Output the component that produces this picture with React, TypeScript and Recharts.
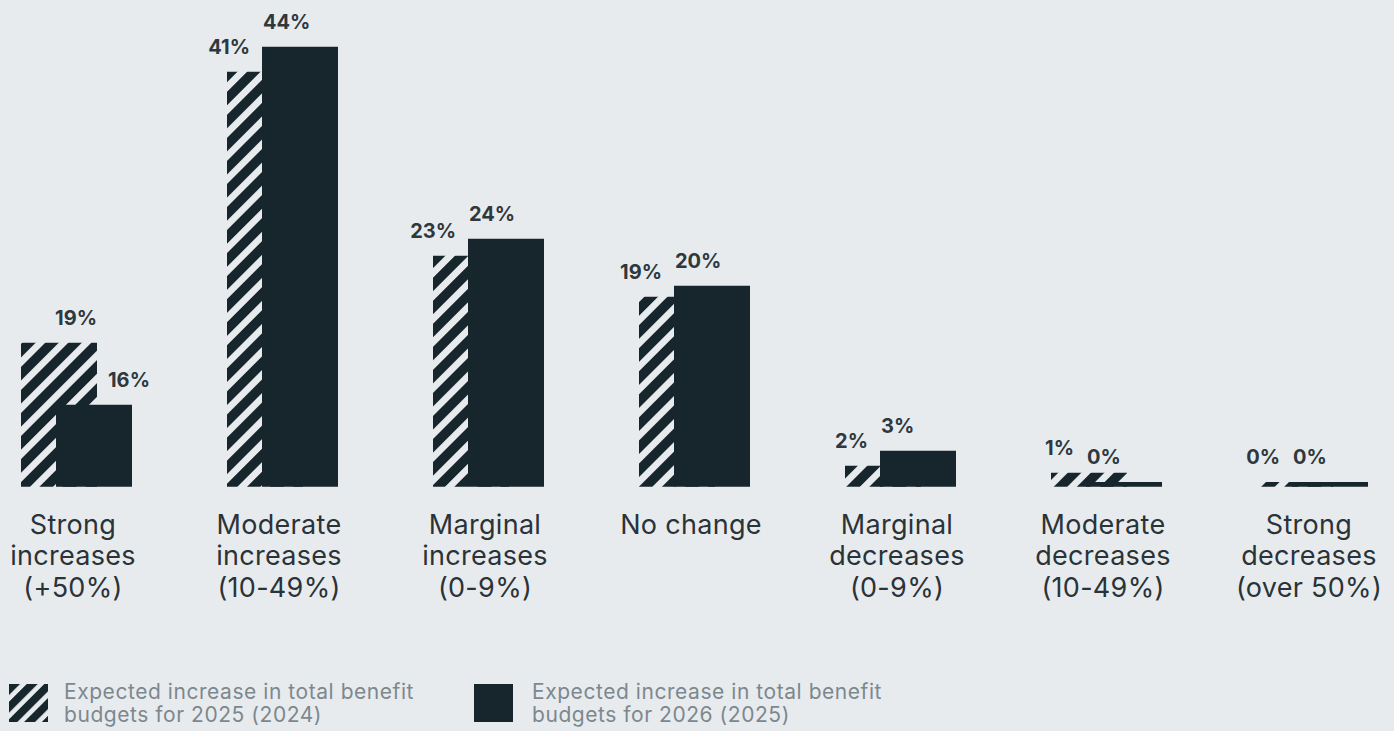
import React from "react";
import { BarChart, Bar, XAxis, YAxis, LabelList } from "recharts";

// Category labels (multi-line, split on \n)
const categories = [
  "Strong\nincreases\n(+50%)",
  "Moderate\nincreases\n(10-49%)",
  "Marginal\nincreases\n(0-9%)",
  "No change",
  "Marginal\ndecreases\n(0-9%)",
  "Moderate\ndecreases\n(10-49%)",
  "Strong\ndecreases\n(over 50%)",
];

// Printed percentages
const labels2025 = [19, 41, 23, 19, 2, 1, 0];
const labels2026 = [16, 44, 24, 20, 3, 0, 0];

// Bar heights as drawn in the picture (percent units)
const bars2025 = [14.4, 41.5, 23.1, 19.0, 2.1, 1.4, 0.47];
const bars2026 = [8.2, 44.0, 24.8, 20.1, 3.6, 0.47, 0.47];

const legendLabels = [
  "Expected increase in total benefit\nbudgets for 2025 (2024)",
  "Expected increase in total benefit\nbudgets for 2026 (2025)",
];

const BG = "#E8EBEE";
const DARK = "#17252C";
const LABEL = "#2E383D";
const LEGEND_TEXT = "#7C888E";
const FONT = "Inter, 'Noto Sans', sans-serif";

const data = categories.map((c, i) => ({
  name: c,
  b2025: bars2025[i],
  b2026: bars2026[i],
  l2025: labels2025[i],
  l2026: labels2026[i],
}));

const LABEL_GAP = 18;

// true when the solid bar's label would sit inside the taller hatched bar
const overlaps = (i: number, pxPerUnit: number) =>
  (bars2025[i] - bars2026[i]) * pxPerUnit > LABEL_GAP;

const CategoryTick = (props: any) => {
  const { x, y, payload } = props;
  const lines = String(payload.value).split("\n");
  return (
    <g>
      {lines.map((ln, i) => (
        <text
          key={i}
          x={x - 3}
          y={y + 47 + i * 31.5}
          textAnchor="middle"
          fill="#2A3338"
          fontFamily={FONT}
          fontSize={27}
          letterSpacing={0.3}
        >
          {ln}
        </text>
      ))}
    </g>
  );
};

const HatchLabel = (props: any) => {
  const { x, y, width, height, value, index } = props;
  const ppu = height / bars2025[index];
  const shifted = overlaps(index, ppu);
  return (
    <text
      x={shifted ? x + width : x + 23}
      y={y - LABEL_GAP}
      textAnchor="end"
      fill={LABEL}
      fontFamily={FONT}
      fontWeight={700}
      fontSize={20}
    >
      {value}%
    </text>
  );
};

const SolidLabel = (props: any) => {
  const { x, y, width, height, value, index } = props;
  const ppu = height / bars2026[index];
  const shifted = overlaps(index, ppu);
  return (
    <text
      x={shifted ? x + width - 24 : x + 1}
      y={y - LABEL_GAP}
      textAnchor="start"
      fill={LABEL}
      fontFamily={FONT}
      fontWeight={700}
      fontSize={20}
    >
      {value}%
    </text>
  );
};

const LegendItem = ({ text, hatched, left, textLeft }: any) => {
  const lines = text.split("\n");
  return (
    <div style={{ position: "absolute", left, top: 684 }}>
      <svg width={40} height={38} style={{ position: "absolute", left: 0, top: 0 }}>
        <rect x={0} y={0} width={39} height={38} fill={hatched ? "url(#hatchSmall)" : DARK} />
      </svg>
      <div
        style={{
          position: "absolute",
          left: textLeft - left,
          top: -4,
          width: 460,
          fontFamily: FONT,
          fontSize: 21,
          letterSpacing: "0.55px",
          lineHeight: "23px",
          color: LEGEND_TEXT,
          whiteSpace: "pre",
        }}
      >
        {lines.join("\n")}
      </div>
    </div>
  );
};

export default function App() {
  return (
    <div
      style={{
        position: "fixed",
        left: 0,
        top: 0,
        width: 1394,
        height: 731,
        background: BG,
        overflow: "hidden",
      }}
    >
      <svg width={0} height={0} style={{ position: "absolute" }}>
        <defs>
          <pattern
            id="hatch"
            patternUnits="userSpaceOnUse"
            width={16.3}
            height={16.3}
            patternTransform="rotate(45)"
          >
            <rect x={0} y={0} width={16.3} height={16.3} fill={BG} />
            <rect x={0} y={0} width={9.6} height={16.3} fill={DARK} />
          </pattern>
          <pattern
            id="hatchSmall"
            patternUnits="userSpaceOnUse"
            width={12.5}
            height={12.5}
            patternTransform="rotate(45)"
          >
            <rect x={0} y={0} width={12.5} height={12.5} fill={BG} />
            <rect x={0} y={0} width={7.8} height={12.5} fill={DARK} />
          </pattern>
        </defs>
      </svg>
      <div style={{ position: "absolute", left: -27, top: 0 }}>
        <BarChart
          width={1442}
          height={620}
          data={data}
          margin={{ top: 6.7, right: 0, bottom: 0, left: 0 }}
          barSize={76}
          barGap={-41}
        >
          <XAxis
            dataKey="name"
            axisLine={false}
            tickLine={false}
            tickSize={0}
            tickMargin={0}
            height={133.3}
            interval={0}
            tick={<CategoryTick />}
          />
          <YAxis hide domain={[0, 48]} />
          <Bar dataKey="b2025" fill="url(#hatch)" isAnimationActive={false}>
            <LabelList dataKey="l2025" content={<HatchLabel />} />
          </Bar>
          <Bar dataKey="b2026" fill={DARK} isAnimationActive={false}>
            <LabelList dataKey="l2026" content={<SolidLabel />} />
          </Bar>
        </BarChart>
      </div>
      <LegendItem text={legendLabels[0]} hatched left={9} textLeft={64} />
      <LegendItem text={legendLabels[1]} hatched={false} left={474} textLeft={532} />
    </div>
  );
}
